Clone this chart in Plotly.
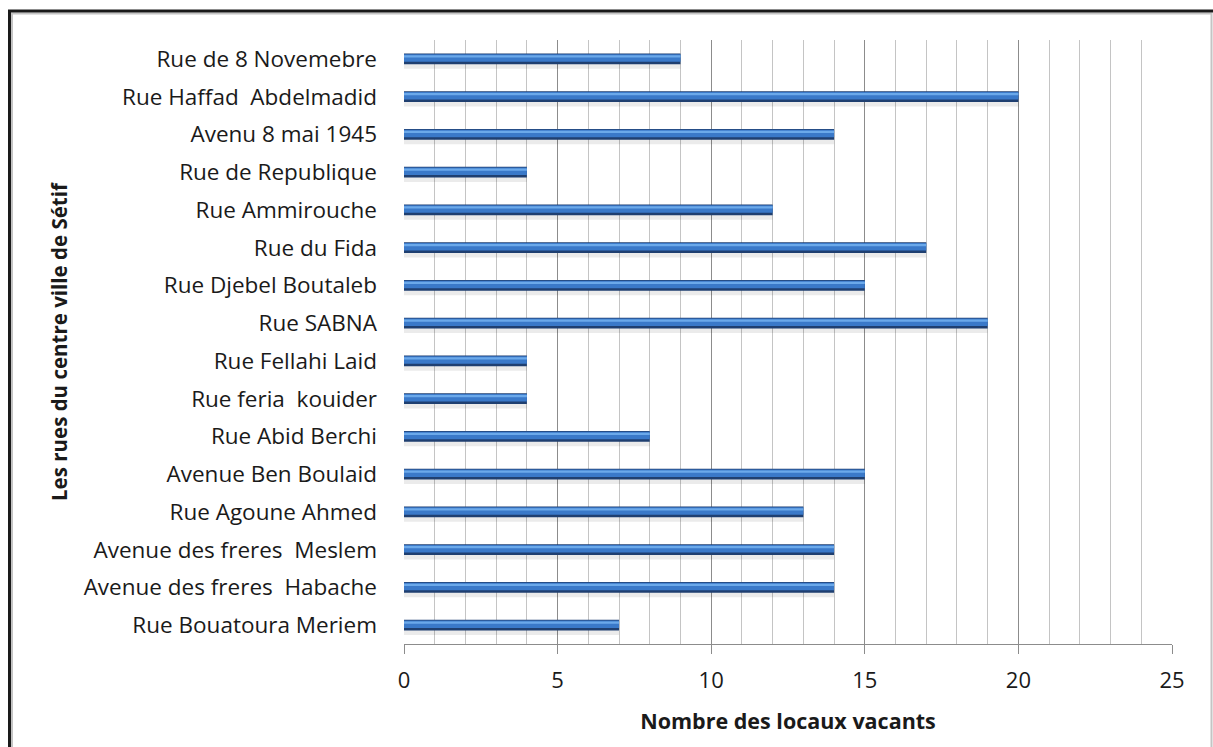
import plotly.graph_objects as go

# Streets of Sétif city centre, listed top to bottom
streets = [
    "Rue de 8 Novemebre",
    "Rue Haffad  Abdelmadid",
    "Avenu 8 mai 1945",
    "Rue de Republique",
    "Rue Ammirouche",
    "Rue du Fida",
    "Rue Djebel Boutaleb",
    "Rue SABNA",
    "Rue Fellahi Laid",
    "Rue feria  kouider",
    "Rue Abid Berchi",
    "Avenue Ben Boulaid",
    "Rue Agoune Ahmed",
    "Avenue des freres  Meslem",
    "Avenue des freres  Habache",
    "Rue Bouatoura Meriem",
]
vacant = [9, 20, 14, 4, 12, 17, 15, 19, 4, 4, 8, 15, 13, 14, 14, 7]
x_ticks = [0, 5, 10, 15, 20, 25]

n = len(streets)
ypos = list(range(n - 1, -1, -1))

FONT = "'Open Sans', Lato, sans-serif"
L, R, T, B = 404, 41, 40, 103
W, H = 1213, 747
pw, ph = W - L - R, H - T - B

fig = go.Figure()

# layered bars give a rounded, shaded tube look
layers = [
    ("rgba(0,0,0,0.08)", -0.26, 0.24),
    ("#1f3f70", -0.14, 0.28),
    ("#3a79c9", -0.075, 0.2),
    ("#6ba9ea", 0.035, 0.06),
]
for color, off, wd in layers:
    fig.add_trace(go.Bar(
        x=vacant, y=ypos, orientation="h",
        marker=dict(color=color, line=dict(width=0)),
        offset=off, width=wd, hoverinfo="skip", showlegend=False,
    ))


def px_x(p):
    return (p - L) / pw


def px_y(p):
    return (H - B - p) / ph


shapes = [
    # frame around the chart
    dict(type="rect", xref="paper", yref="paper",
         x0=px_x(12), x1=px_x(1211.5), y0=px_y(790), y1=px_y(13.5),
         line=dict(color="#c4c4c4", width=2), layer="below"),
    dict(type="rect", xref="paper", yref="paper",
         x0=px_x(9.5), x1=px_x(1230), y0=px_y(790), y1=px_y(11),
         line=dict(color="#1a1a1a", width=3), layer="below"),
]

fig.update_layout(
    width=W, height=H,
    margin=dict(l=L, r=R, t=T, b=B, pad=0),
    paper_bgcolor="white", plot_bgcolor="white",
    barmode="overlay",
    shapes=shapes,
    font=dict(family=FONT, color="#1a1a1a", size=20),
    xaxis=dict(
        range=[0, 25], tickvals=x_ticks, ticktext=[str(v) for v in x_ticks],
        showgrid=True, gridcolor="#8c8c8c", gridwidth=1,
        minor=dict(dtick=1, showgrid=True, gridcolor="#c4c4c4", gridwidth=1,
                   ticks=""),
        ticks="outside", ticklen=9, tickcolor="#8c8c8c", tickwidth=1,
        ticklabelstandoff=8,
        showline=True, linecolor="#8c8c8c", linewidth=1,
        tickfont=dict(size=22, family=FONT),
        title=dict(text="<b>Nombre des locaux vacants</b>",
                   font=dict(size=21.5, family=FONT), standoff=20),
        zeroline=False,
    ),
    yaxis=dict(
        range=[-0.5, n - 0.5], tickvals=ypos, ticktext=streets,
        showgrid=False, zeroline=False, showline=False,
        ticks="", ticklabelstandoff=26,
        tickfont=dict(size=22.5, family=FONT),
        title=dict(text="<b>Les rues du centre ville de Sétif</b>",
                   font=dict(size=20.5, family=FONT), standoff=10),
    ),
)

fig.write_html("out.html")
